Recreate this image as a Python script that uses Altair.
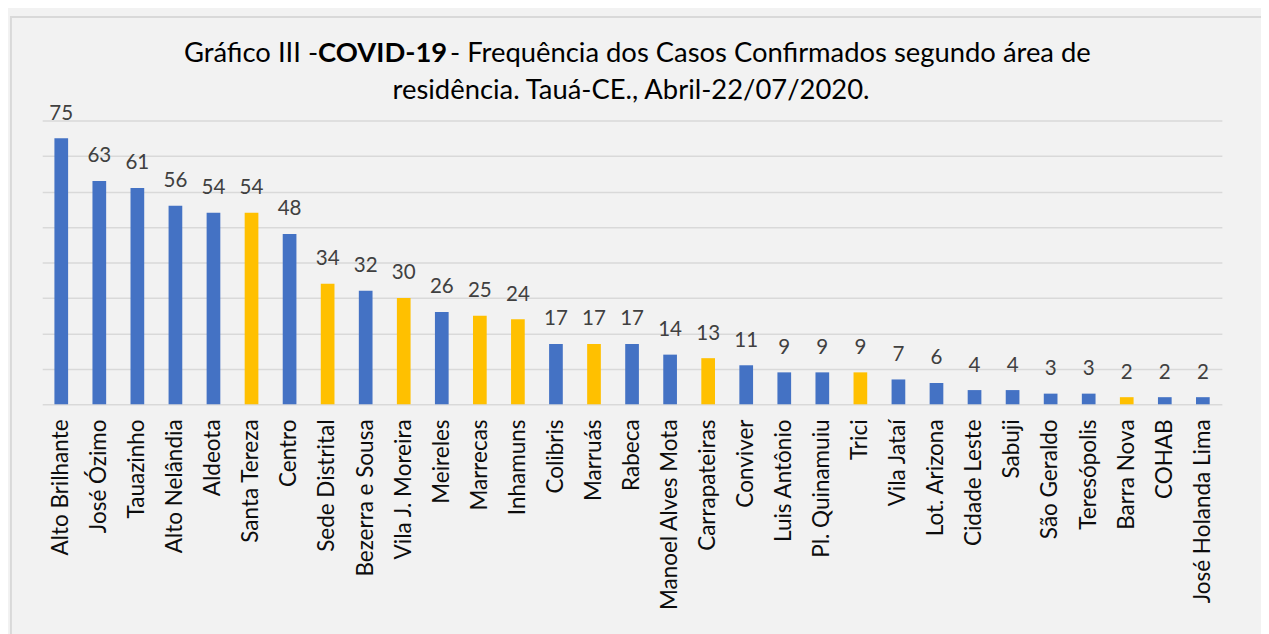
import altair as alt
import pandas as pd

categories = [
    "Alto Brilhante", "José Ózimo", "Tauazinho", "Alto Nelândia", "Aldeota",
    "Santa Tereza", "Centro", "Sede Distrital", "Bezerra e Sousa", "Vila J. Moreira",
    "Meireles", "Marrecas", "Inhamuns", "Colibris", "Marruás", "Rabeca",
    "Manoel Alves Mota", "Carrapateiras", "Conviver", "Luis Antônio", "Pl. Quinamuiu",
    "Trici", "Vila Jataí", "Lot. Arizona", "Cidade Leste", "Sabuji", "São Geraldo",
    "Teresópolis", "Barra Nova", "COHAB", "José Holanda Lima",
]
values = [75, 63, 61, 56, 54, 54, 48, 34, 32, 30, 26, 25, 24, 17, 17, 17,
          14, 13, 11, 9, 9, 9, 7, 6, 4, 4, 3, 3, 2, 2, 2]
groups = ["sede", "sede", "sede", "sede", "sede", "distrito", "sede", "distrito", "sede", "distrito",
          "sede", "distrito", "distrito", "sede", "distrito", "sede", "sede", "distrito", "sede", "sede",
          "sede", "distrito", "sede", "sede", "sede", "sede", "sede", "sede", "distrito", "sede", "sede"]

title_left = "Gráfico III -"
title_bold = "COVID-19"
title_right = "- Frequência dos Casos Confirmados segundo área de"
title_line2 = "residência. Tauá-CE., Abril-22/07/2020."

df = pd.DataFrame({"bairro": categories, "casos": values, "grupo": groups})

W, H = 1206, 290
FONT = "Lato"

x = alt.X("bairro:N", sort=None,
          scale=alt.Scale(paddingInner=0.64, paddingOuter=0.32),
          axis=alt.Axis(title=None, labelAngle=-90, labelFontSize=23, labelFont=FONT,
                        labelColor="#0D0D0D", labelPadding=15, ticks=False, domain=False,
                        labelLimit=400))
y = alt.Y("casos:Q", scale=alt.Scale(domain=[0, 80], nice=False),
          axis=alt.Axis(title=None, labels=False, ticks=False, domain=False, grid=True,
                        gridColor="#D9D9D9", gridWidth=1.5, values=list(range(0, 81, 10))))

base = alt.Chart(df)
bars = base.mark_bar().encode(
    x=x, y=y,
    color=alt.Color("grupo:N", scale=alt.Scale(domain=["sede", "distrito"],
                                               range=["#4472C4", "#FFC000"]), legend=None),
)
labels = base.mark_text(baseline="alphabetic", dy=-19, font=FONT, fontSize=21,
                        color="#404040").encode(x=x, y=y, text="casos:Q")

tdf = pd.DataFrame({"a": [0]})
tbase = alt.Chart(tdf)
TS = 28
t1 = tbase.mark_text(align="right", baseline="alphabetic", font=FONT, fontSize=TS,
                     color="#000000", text=title_left).encode(x=alt.value(282), y=alt.value(-60))
t2 = tbase.mark_text(align="center", baseline="alphabetic", font=FONT, fontSize=TS, fontWeight="bold",
                     color="#000000", text=title_bold).encode(x=alt.value(348), y=alt.value(-60))
t3 = tbase.mark_text(align="left", baseline="alphabetic", font=FONT, fontSize=TS,
                     color="#000000", text=title_right).encode(x=alt.value(417), y=alt.value(-60))
t4 = tbase.mark_text(align="center", baseline="alphabetic", font=FONT, fontSize=TS,
                     color="#000000", text=title_line2).encode(x=alt.value(602), y=alt.value(-22))
frame = tbase.mark_rect(fill=None, stroke="#D9D9D9", strokeWidth=2).encode(
    x=alt.value(-32), x2=alt.value(W + 60), y=alt.value(-106), y2=alt.value(H + 260))

chart = alt.layer(frame, bars, labels, t1, t2, t3, t4).properties(
    width=W, height=H,
    autosize=alt.AutoSizeParams(type="none"),
    padding={"left": 35, "top": 108, "right": 40, "bottom": 240},
    background="#F2F2F2",
).configure_view(stroke=None)

chart.save("out.html", embed_options={"renderer": "svg", "actions": False})
